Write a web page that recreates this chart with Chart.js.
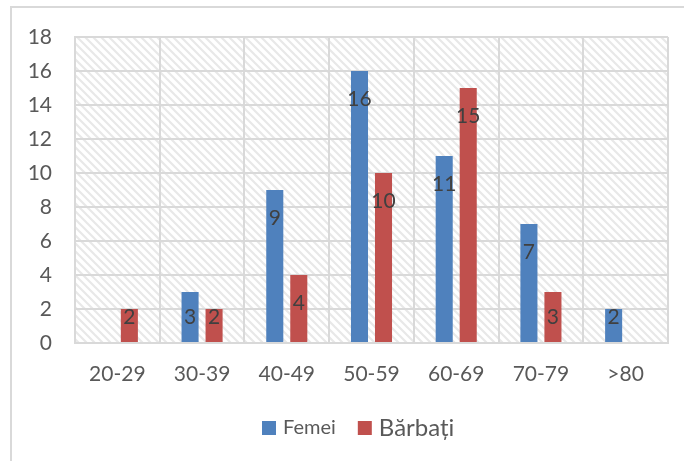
<!DOCTYPE html>
<html>
<head>
<meta charset="utf-8">
<script src="https://cdn.jsdelivr.net/npm/chart.js@4/dist/chart.umd.min.js"></script>
<style>
  body { margin: 0; background: #fff; }
  #wrap { width: 684px; height: 461px; position: relative; }
</style>
</head>
<body>
<div id="wrap"><canvas id="myChart" width="684" height="461"></canvas></div>
<script>
// age groups + counts
var ageGroups = ["20-29", "30-39", "40-49", "50-59", "60-69", "70-79", ">80"];
var femei = [0, 3, 9, 16, 11, 7, 2];
var barbati = [2, 2, 4, 10, 15, 3, 0];
var seriesNames = ["Femei", "Bărbați"];
var barColors = ["#4f81bd", "#c0504d"];

var FONT = "Lato, 'Noto Sans', sans-serif";

// diagonal hatch for the plot area
function makeHatch(ctx) {
  var c = document.createElement('canvas');
  c.width = 8; c.height = 8;
  var g = c.getContext('2d');
  g.fillStyle = '#fff';
  g.fillRect(0, 0, 8, 8);
  g.strokeStyle = '#e8e8e8';
  g.lineWidth = 2.2;
  g.beginPath();
  g.moveTo(-2, -2); g.lineTo(10, 10);
  g.moveTo(-10, -2); g.lineTo(2, 10);
  g.moveTo(6, -2); g.lineTo(18, 10);
  g.stroke();
  return ctx.createPattern(c, 'repeat');
}

var hatchBg = {
  id: 'hatchBg',
  beforeDraw: function(chart) {
    var ctx = chart.ctx, a = chart.chartArea;
    ctx.save();
    // outer frame
    ctx.strokeStyle = '#d9d9d9';
    ctx.lineWidth = 2;
    ctx.beginPath();
    ctx.moveTo(11, 470); ctx.lineTo(11, 7); ctx.lineTo(700, 7);
    ctx.stroke();
    ctx.fillStyle = makeHatch(ctx);
    ctx.fillRect(a.left, a.top, a.right - a.left, a.bottom - a.top);
    ctx.restore();
  }
};

var barLabels = {
  id: 'barLabels',
  afterDatasetsDraw: function(chart) {
    var ctx = chart.ctx;
    ctx.save();
    ctx.font = '21px ' + FONT;
    ctx.fillStyle = '#404040';
    ctx.textAlign = 'center';
    ctx.textBaseline = 'middle';
    chart.data.datasets.forEach(function(ds, i) {
      chart.getDatasetMeta(i).data.forEach(function(bar, j) {
        var v = ds.data[j];
        if (!v) return;
        var y = Math.min(bar.y + 28, bar.base - 25);
        ctx.fillText(String(v), bar.x, y);
      });
    });
    ctx.restore();
  }
};

var bottomLegend = {
  id: 'bottomLegend',
  afterDraw: function(chart) {
    var ctx = chart.ctx;
    var sizes = [20, 24];
    var x = 262, y = 428;
    ctx.save();
    ctx.textBaseline = 'middle';
    chart.data.datasets.forEach(function(ds, i) {
      ctx.fillStyle = ds.backgroundColor;
      ctx.fillRect(x, y - 7, 14, 14);
      x += 21;
      ctx.font = sizes[i] + 'px ' + FONT;
      ctx.fillStyle = '#595959';
      ctx.fillText(ds.label, x, y);
      x += ctx.measureText(ds.label).width + 22;
    });
    ctx.restore();
  }
};

new Chart("myChart", {
  type: "bar",
  data: {
    labels: ageGroups,
    datasets: [
      { label: seriesNames[0], data: femei, backgroundColor: barColors[0],
        categoryPercentage: 0.567, barPercentage: 0.71 },
      { label: seriesNames[1], data: barbati, backgroundColor: barColors[1],
        categoryPercentage: 0.567, barPercentage: 0.71 }
    ]
  },
  options: {
    responsive: false,
    animation: false,
    layout: { padding: { left: 0, top: 37, right: 16, bottom: 0 } },
    plugins: {
      legend: { display: false },
      tooltip: { enabled: false }
    },
    scales: {
      x: {
        grid: { color: '#d9d9d9', lineWidth: 2, drawTicks: false, offset: true },
        border: { color: '#d9d9d9', width: 2 },
        ticks: { color: '#595959', font: { family: FONT, size: 21 }, padding: 19 },
        afterFit: function(s) { s.height = 118; }
      },
      y: {
        min: 0, max: 18,
        ticks: { stepSize: 2, color: '#595959', font: { family: FONT, size: 21 }, padding: 23 },
        grid: { color: '#d9d9d9', lineWidth: 2, drawTicks: false },
        border: { color: '#d9d9d9', width: 2 },
        afterFit: function(s) { s.width = 75; }
      }
    }
  },
  plugins: [hatchBg, barLabels, bottomLegend]
});
</script>
</body>
</html>
